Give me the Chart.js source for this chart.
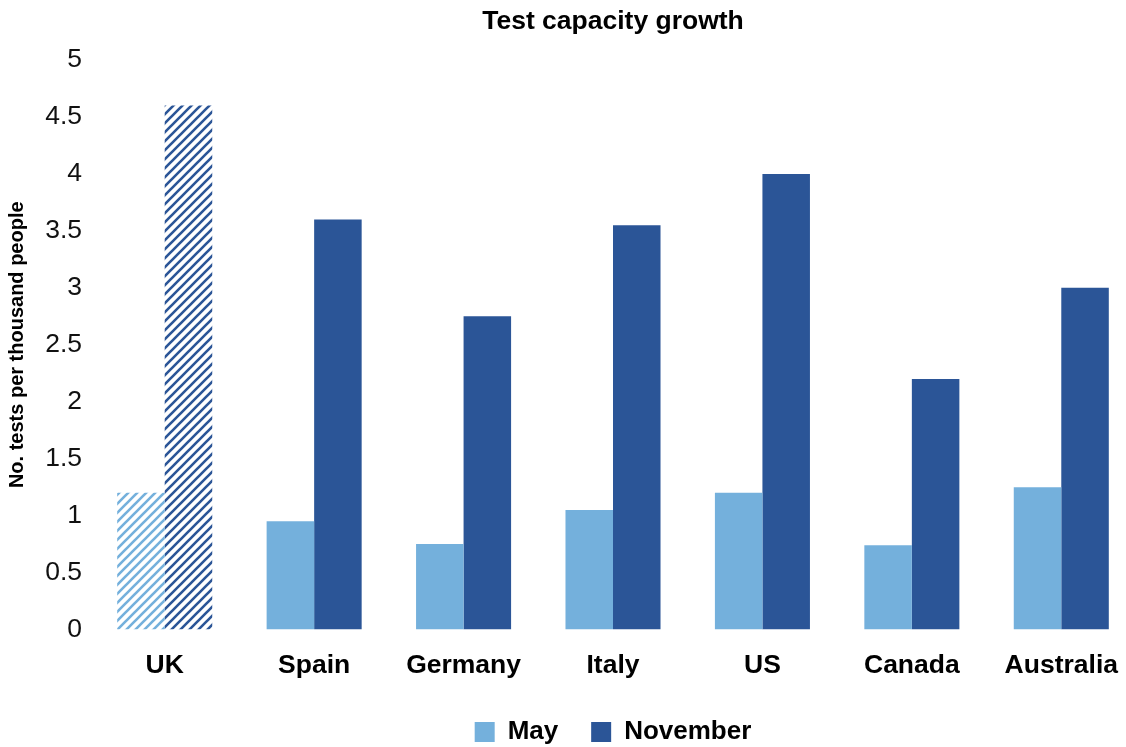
<!DOCTYPE html>
<html>
<head>
<meta charset="utf-8">
<script src="https://cdn.jsdelivr.net/npm/chart.js@4"></script>
<style>
  html, body { margin: 0; padding: 0; background: #fff; overflow: hidden; }
  #wrap { width: 1226px; height: 755px; }
</style>
</head>
<body>
<div id="wrap"><canvas id="capacityChart" width="1226" height="755"></canvas></div>
<script>
const countries = ['UK', 'Spain', 'Germany', 'Italy', 'US', 'Canada', 'Australia'];
const mayValues = [1.2, 0.95, 0.75, 1.05, 1.2, 0.74, 1.25];
const novemberValues = [4.6, 3.6, 2.75, 3.55, 4.0, 2.2, 3.0];
const yTicks = [0, 0.5, 1, 1.5, 2, 2.5, 3, 3.5, 4, 4.5, 5];

const mayColor = '#74b0dc';
const novColor = '#2b5597';

// diagonal hatch used for the UK bars
function hatch(color) {
    const s = 9;
    const c = document.createElement('canvas');
    c.width = s;
    c.height = s;
    const g = c.getContext('2d');
    g.strokeStyle = color;
    g.lineWidth = 2.6;
    g.beginPath();
    g.moveTo(-s, s); g.lineTo(s, -s);
    g.moveTo(0, s); g.lineTo(s, 0);
    g.moveTo(0, 2 * s); g.lineTo(2 * s, 0);
    g.stroke();
    return g.createPattern(c, 'repeat');
}

const mayFill = countries.map((c, i) => i === 0 ? hatch(mayColor) : mayColor);
const novFill = countries.map((c, i) => i === 0 ? hatch(novColor) : novColor);

const font = 'Liberation Sans, Arial, sans-serif';
const big = 26.5;

new Chart(document.getElementById('capacityChart'), {
    type: 'bar',
    data: {
        labels: countries,
        datasets: [
            {label: 'May', data: mayValues, backgroundColor: mayFill, borderWidth: 0},
            {label: 'November', data: novemberValues, backgroundColor: novFill, borderWidth: 0}
        ]
    },
    options: {
        responsive: false,
        animation: false,
        categoryPercentage: 0.636,
        barPercentage: 1.0,
        layout: {padding: 0},
        scales: {
            x: {
                grid: {display: false, drawTicks: false},
                border: {display: false},
                ticks: {
                    color: '#000',
                    padding: 20,
                    font: {family: font, size: big, weight: 'bold'}
                },
                afterFit: s => { s.height = 85.5; }
            },
            y: {
                min: 0,
                max: 5,
                afterBuildTicks: s => { s.ticks = yTicks.map(v => ({value: v})); },
                grid: {display: false, drawTicks: false},
                border: {display: false},
                ticks: {
                    color: '#111',
                    padding: 8,
                    font: {family: font, size: big},
                    callback: v => String(v)
                },
                title: {
                    display: true,
                    text: 'No. tests per thousand people',
                    color: '#000',
                    padding: {top: 5, bottom: 0},
                    font: {family: font, size: 20, weight: 'bold'}
                },
                afterFit: s => { s.width = 90; }
            },
            // empty spacer so the plot stops short of the right edge
            spacer: {
                type: 'linear',
                position: 'right',
                display: true,
                grid: {display: false, drawTicks: false},
                border: {display: false},
                ticks: {display: false},
                afterFit: s => { s.width = 90; }
            }
        },
        plugins: {
            title: {
                display: true,
                text: 'Test capacity growth',
                color: '#000',
                padding: {top: 6, bottom: 22.2},
                font: {family: font, size: big, weight: 'bold'}
            },
            legend: {
                position: 'bottom',
                labels: {
                    color: '#000',
                    boxWidth: 20,
                    boxHeight: 20,
                    padding: 4,
                    font: {family: font, size: 26, weight: 'bold'},
                    generateLabels: () => [
                        {text: 'May    ', fillStyle: mayColor, strokeStyle: mayColor, lineWidth: 0, datasetIndex: 0},
                        {text: 'November', fillStyle: novColor, strokeStyle: novColor, lineWidth: 0, datasetIndex: 1}
                    ]
                }
            },
            tooltip: {enabled: false}
        }
    }
});
</script>
</body>
</html>
